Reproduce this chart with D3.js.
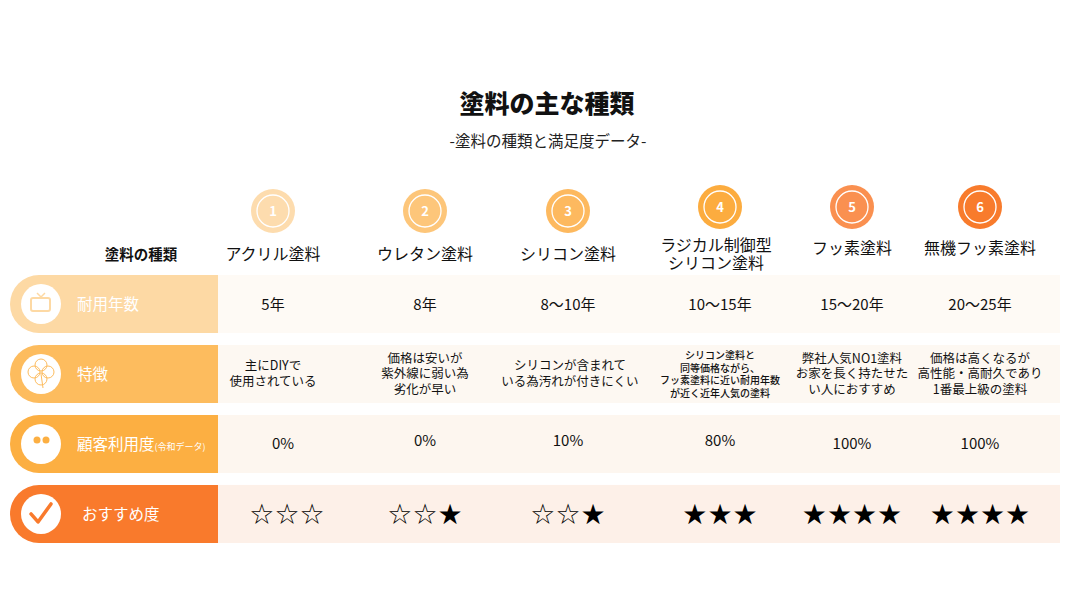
<!DOCTYPE html>
<html><head><meta charset="utf-8">
<script src="https://cdn.jsdelivr.net/npm/d3@7"></script>
<style>body{margin:0;background:#fff;font-family:"Noto Sans CJK JP","Noto Sans",sans-serif}</style>
</head><body><svg id="c" width="1067" height="600"></svg>
<script>
const categories = [["アクリル塗料"],["ウレタン塗料"],["シリコン塗料"],["ラジカル制御型","シリコン塗料"],["フッ素塗料"],["無機フッ素塗料"]];
const durations = ["5年","8年","8〜10年","10〜15年","15〜20年","20〜25年"];
const features = [["主にDIYで","使用されている"],["価格は安いが","紫外線に弱い為","劣化が早い"],["シリコンが含まれて","いる為汚れが付きにくい"],["シリコン塗料と","同等価格ながら、","フッ素塗料に近い耐用年数","が近く近年人気の塗料"],["弊社人気NO1塗料","お家を長く持たせた","い人におすすめ"],["価格は高くなるが","高性能・高耐久であり","1番最上級の塗料"]];
const usage = [0,0,10,80,100,100];
const starsFilled = [0,1,1,3,4,4];
const starsTotal = [3,3,3,3,4,4];
const rowLabels = ["耐用年数","特徴","顧客利用度","おすすめ度"];

const svg = d3.select("#c");
const idx = d3.range(categories.length);
const xs = d3.scaleOrdinal().domain(idx).range([273,425,568,720,852,980]);
const ys = d3.scaleBand().domain(d3.range(4)).range([275,543]).paddingInner(0.17);
const circleCol = ["#fddcae","#fdc67a","#fdb95f","#fcac3f","#fa9050","#f87b2c"];
const pillCol = ["#fdd9a4","#fdbc5e","#fcaf42","#f97a2c"];
const cellCol = ["#fefaf5","#fdf8f2","#fdf6ef","#fdf0e8"];

function multi(x,yFirst,lines,lh,fs,weight){
  const t=svg.append("text").attr("text-anchor","middle").attr("font-size",fs).attr("fill","#111").attr("font-weight",weight||400);
  lines.forEach((l,k)=>t.append("tspan").attr("x",x).attr("y",yFirst+k*lh).text(l));
  return t;
}

svg.append("text").attr("x",547).attr("y",113).attr("text-anchor","middle").attr("font-size",25).attr("font-weight",900).attr("fill","#111").text("塗料の主な種類");
svg.append("text").attr("x",548).attr("y",147).attr("text-anchor","middle").attr("font-size",15.5).attr("fill","#222").text("-塗料の種類と満足度データ-");

idx.forEach(i=>{
  const cy = i<3?211:207, cx=xs(i);
  svg.append("circle").attr("cx",cx).attr("cy",cy).attr("r",22).attr("fill",circleCol[i]);
  svg.append("circle").attr("cx",cx).attr("cy",cy).attr("r",16).attr("fill","none").attr("stroke","#fff").attr("stroke-width",1.3);
  svg.append("text").attr("x",cx).attr("y",cy+5).attr("text-anchor","middle").attr("font-size",13).attr("font-weight",700).attr("fill","#fff").text(i+1);
  const lines=categories[i];
  const y0 = lines.length>1?251:(i<3?260:254);
  multi(cx+(i==3?-4:0),y0,lines,18,16);
});
svg.append("text").attr("x",141).attr("y",260).attr("text-anchor","middle").attr("font-size",14.5).attr("font-weight",700).attr("fill","#111").text("塗料の種類");

d3.range(4).forEach(r=>{
  const y=ys(r), h=ys.bandwidth();
  svg.append("rect").attr("x",218).attr("y",y).attr("width",842).attr("height",h).attr("fill",cellCol[r]);
  svg.append("path").attr("d",`M218,${y}H${10+h/2}A${h/2},${h/2} 0 0 0 ${10+h/2},${y+h}H218Z`).attr("fill",pillCol[r]);
  svg.append("circle").attr("cx",41).attr("cy",y+h/2).attr("r",20).attr("fill","#fff");
  const t=svg.append("text").attr("x",r==3?82:77).attr("y",y+h/2+6).attr("font-size",15.5).attr("fill","#fff").text(rowLabels[r]);
  if(r==2) t.append("tspan").attr("font-size",9).text("(令和データ)");
});
(function(){
  let cy=ys(0)+ys.bandwidth()/2;
  svg.append("rect").attr("x",31).attr("y",cy-6).attr("width",19).attr("height",13).attr("rx",2).attr("fill","none").attr("stroke",pillCol[0]).attr("stroke-width",2);
  svg.append("path").attr("d",`M37,${cy-11}L41,${cy-7}L45,${cy-11}`).attr("fill","none").attr("stroke",pillCol[0]).attr("stroke-width",1.5);
  cy=ys(1)+ys.bandwidth()/2;
  [[0,-7],[7,0],[0,7],[-7,0]].forEach(([dx,dy])=>svg.append("circle").attr("cx",41+dx).attr("cy",cy+dy-2).attr("r",6).attr("fill","none").attr("stroke",pillCol[1]).attr("stroke-width",1));
  svg.append("path").attr("d",`M41,${cy}L43,${cy+14}`).attr("stroke",pillCol[1]);
  cy=ys(2)+ys.bandwidth()/2;
  [[-4,-4],[5,-4]].forEach(([dx,dy])=>svg.append("circle").attr("cx",41+dx).attr("cy",cy+dy).attr("r",3.5).attr("fill",pillCol[2]));
  svg.append("path").attr("d",`M30,${cy+6}Q32,${cy}38,${cy}Q44,${cy}46,${cy+6}Z M40,${cy+6}Q42,${cy}47,${cy}Q52,${cy}53,${cy+6}Z`).attr("fill",pillCol[2]);
  cy=ys(3)+ys.bandwidth()/2;
  svg.append("path").attr("d",`M31,${cy}L38,${cy+8}L51,${cy-10}`).attr("fill","none").attr("stroke",pillCol[3]).attr("stroke-width",3.5).attr("stroke-linecap","round").attr("stroke-linejoin","round");
})();

idx.forEach(i=>{
  const cx=xs(i);
  svg.append("text").attr("x",cx).attr("y",ys(0)+ys.bandwidth()/2+6).attr("text-anchor","middle").attr("font-size",15).attr("fill","#111").text(durations[i]);
  const f=features[i], fs=i==3?10:12.5, lh=i==3?12.5:15.5;
  const yc=ys(1)+ys.bandwidth()/2;
  multi(cx+(i==2?2:0), yc-(f.length-1)/2*lh+4, f, lh, fs, i==3?500:400);
  svg.append("text").attr("x",cx+(i==0?10:0)).attr("y",ys(2)+ys.bandwidth()/2+(i<4&&i>0?2:5)).attr("text-anchor","middle").attr("font-size",15).attr("fill","#111").text(usage[i]+"%");
  const s="☆".repeat(starsTotal[i]-starsFilled[i])+"★".repeat(starsFilled[i]);
  svg.append("text").attr("x",cx+(i==0?14:0)).attr("y",ys(3)+ys.bandwidth()/2+10).attr("text-anchor","middle").attr("font-size",28).attr("font-family","DejaVu Sans").attr("fill","#000").text(s);
});
</script></body></html>
